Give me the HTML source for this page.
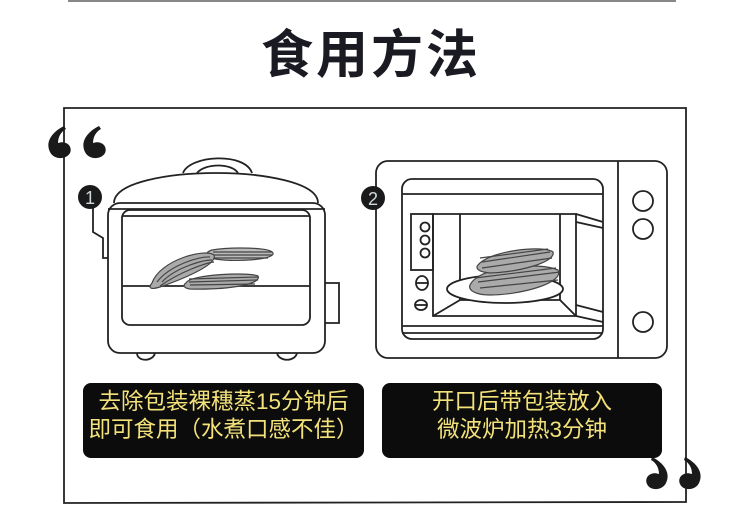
<!DOCTYPE html>
<html><head><meta charset="utf-8"><style>
html,body{margin:0;padding:0;background:#fff;}
body{width:730px;height:514px;position:relative;overflow:hidden;font-family:"Liberation Sans","Noto Sans CJK SC",sans-serif;}
.title{position:absolute;left:6px;width:730px;top:26px;text-align:center;font-size:52px;font-weight:bold;color:#1a1a22;letter-spacing:3px;line-height:60px;}
.box{position:absolute;background:#0c0c0c;border-radius:8px;color:#f3e27a;font-size:22.5px;line-height:28px;text-align:center;padding-top:5px;box-sizing:border-box;}
</style></head><body>
<svg width="730" height="514" style="position:absolute;left:0;top:0" fill="none" stroke="#222" stroke-width="1.8">
<line x1="68" y1="1" x2="676" y2="1" stroke="#888" stroke-width="2"/>
<path d="M64 108 L686 108 L686 502 L64 503 Z" stroke="#222" stroke-width="1.8"/>
<g fill="#1a1a1a" stroke="none">
<path d="M64 126 C52 132 45 142 50 152 C54 160 66 160 70 153 C73 146 66 140 58 143 C58 136 62 131 66 129 Z"/>
<path d="M99 126 C87 132 80 142 85 152 C89 160 101 160 105 153 C108 146 101 140 93 143 C93 136 97 131 101 129 Z"/>
<path d="M652 457 C664 463 671 473 666 483 C662 491 650 491 647 484 C644 477 651 471 659 474 C659 467 655 462 651 460 Z"/>
<path d="M685 457 C697 463 704 473 699 483 C695 491 683 491 680 484 C677 477 684 471 692 474 C692 467 688 462 684 460 Z"/>
</g>
<path d="M183 173 C190 155 245 152 252 173"/>
<path d="M197 173 C205 163 232 163 238 173"/>
<path d="M114 203 C114 182 170 173 216 173 C262 173 318 182 318 203"/>
<rect x="108" y="203" width="217" height="150" rx="12"/>
<line x1="108" y1="209" x2="325" y2="209"/>
<rect x="122" y="210" width="188" height="115" rx="8"/>
<line x1="122" y1="216" x2="310" y2="216"/>
<line x1="122" y1="286" x2="310" y2="286"/>
<path d="M325 283 L339 283 L339 323 L325 323"/>
<path d="M93 208 L93 232 L103 238 L103 258 L108 258"/>
<path d="M137 353 C137 362 153 362 155 353"/>
<path d="M277 353 C279 362 295 362 297 353"/>
<g stroke="#444" stroke-width="1.2">
<path d="M212 250 C230 247 270 247 273 253 C275 260 235 262 215 259 C205 257 205 252 212 250 Z" fill="#bbb"/>
<path d="M213 252 L272 252 M213 255 L272 255 M214 258 L268 258"/>
<path d="M152 283 C160 260 205 248 214 255 C218 265 180 280 160 287 C150 290 148 288 152 283 Z" fill="#aaa"/>
<path d="M157 282 C170 265 200 256 210 257 M162 282 C175 268 202 260 212 260 M160 286 C180 272 205 263 214 262"/>
<path d="M186 283 C190 274 250 272 258 276 C262 284 230 290 190 289 C183 288 183 285 186 283 Z" fill="#aaa"/>
<path d="M189 279 L258 277 M189 282 L258 280 M190 285 L255 284"/>
</g>
<circle cx="90" cy="197" r="12" fill="#1a1a1a" stroke="none"/>
<rect x="376" y="161" width="291" height="197" rx="12"/>
<line x1="618" y1="161" x2="618" y2="358"/>
<rect x="402" y="179" width="201" height="160" rx="10"/>
<line x1="402" y1="194" x2="603" y2="194"/>
<line x1="402" y1="326" x2="603" y2="326"/>
<line x1="402" y1="333" x2="603" y2="333"/>
<rect x="411" y="214" width="22" height="56"/>
<circle cx="425" cy="227" r="4.5"/><circle cx="425" cy="240" r="4.5"/><circle cx="425" cy="253" r="4.5"/>
<ellipse cx="422" cy="283" rx="6" ry="7"/><line x1="416" y1="283" x2="428" y2="283"/>
<ellipse cx="421" cy="305" rx="6" ry="5"/><line x1="415" y1="305" x2="427" y2="305"/>
<path d="M433 214 L576 214 L576 316 L433 316 Z"/>
<path d="M460 214 L460 300 L433 316 M560 214 L560 300 L576 316 M460 300 L560 300"/>
<path d="M576 214 L603 222 M576 316 L603 322 M576 222 L603 228 M576 305 L603 312"/>
<ellipse cx="505" cy="289" rx="58" ry="14" fill="#fff"/>
<g stroke="#444" stroke-width="1.2">
<path d="M470 285 C480 265 540 262 558 270 C565 283 520 295 490 295 C475 295 468 290 470 285 Z" fill="#aaa"/>
<path d="M478 265 C490 250 545 245 553 252 C556 262 520 272 490 273 C478 272 475 268 478 265 Z" fill="#aaa"/>
<path d="M482 262 L550 252 M482 268 L552 258 M480 258 L548 249 M478 282 L560 272 M480 288 L558 280 M475 278 L556 268"/>
</g>
<circle cx="643" cy="201" r="10"/><circle cx="643" cy="229" r="10"/><circle cx="643" cy="322" r="10"/>
<circle cx="373" cy="198" r="12" fill="#1a1a1a" stroke="none"/>
<text x="90" y="204" fill="#cfd8dc" stroke="none" font-size="18" text-anchor="middle" font-family="Liberation Sans">1</text>
<text x="373" y="205" fill="#cfd8dc" stroke="none" font-size="18" text-anchor="middle" font-family="Liberation Sans">2</text>
</svg>
<div class="title">食用方法</div>
<div class="box" style="left:83px;top:383px;width:281px;height:75px;">去除包装裸穗蒸15分钟后<br>即可食用（水煮口感不佳）</div>
<div class="box" style="left:382px;top:383px;width:280px;height:75px;">开口后带包装放入<br>微波炉加热3分钟</div>
</body></html>
